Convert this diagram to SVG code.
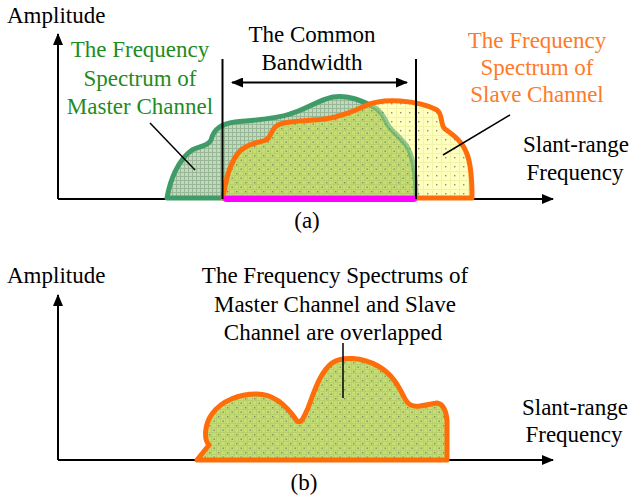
<svg xmlns="http://www.w3.org/2000/svg" width="631" height="499" viewBox="0 0 631 499">
<style>
text{font-family:"Liberation Serif","Times New Roman",serif;font-size:23px;fill:#000}
.c{text-anchor:middle}
.gt{fill:#1e8c1e}
.ot{fill:#ff7a26}
.ax{stroke:#000;stroke-width:2;fill:none}
.ld{stroke:#000;stroke-width:1.5;fill:none}
.gs{fill:none;stroke:#3f9c68;stroke-width:5;stroke-linejoin:round}
.os{fill:none;stroke:#ff6c0a;stroke-width:5;stroke-linejoin:round}
.ob{fill:url(#po);stroke:#ff6c0a;stroke-width:5;stroke-linejoin:round}
</style>
<defs>
<marker id="ah" viewBox="0 0 12 10" refX="11" refY="5" markerWidth="12" markerHeight="10" markerUnits="userSpaceOnUse" orient="auto-start-reverse"><path d="M0,0 L12,5 L0,10 Z" fill="#000"/></marker>
<pattern id="pg" width="4" height="4" patternUnits="userSpaceOnUse"><rect width="4" height="4" fill="#c2d9bd"/><path d="M0,0.5H4M0.5,0V4" stroke="#98b898" stroke-width="1"/></pattern>
<pattern id="py" width="9" height="9" patternUnits="userSpaceOnUse"><rect width="9" height="9" fill="#ffffbe"/><path d="M0,0.5H9M0.5,0V9" stroke="#f2f2a8" stroke-width="1"/><rect x="4" y="4" width="1.4" height="1.4" fill="#8a8a8a"/></pattern>
<pattern id="po" width="9" height="9" patternUnits="userSpaceOnUse"><rect width="9" height="9" fill="#c6dd76"/><path d="M0,0.5H9M0,4.5H9M0.5,0V9M4.5,0V9" stroke="#b6d06a" stroke-width="1"/><rect x="2" y="2" width="1.4" height="1.4" fill="#7f8a70"/><rect x="6.5" y="6.5" width="1.4" height="1.4" fill="#7f8a70"/></pattern>
<path id="gp" d="M167,198 C170,180 178,160 192,150 C200,146 208,146 211,140 C214,128 222,124 235,122 C255,120 275,119 290,114 C305,110 318,100 333,97 C348,95 360,100 372,106 C382,111 384,118 388,125 C392,132 402,138 408,148 C414,160 416,175 416,198 Z"/>
<path id="op" d="M223,198 C226,178 230,162 240,151 C248,143 258,143 266,140 C272,137 270,128 280,124 C292,120 310,121 325,119 C340,117 352,112 365,106 C375,101 385,100 400,101 C415,102 428,105 437,110 C443,114 440,125 445,129 C455,136 464,143 468,157 C472,170 472,185 472,198 Z"/>
<clipPath id="cg"><use href="#gp"/></clipPath>
<clipPath id="co"><use href="#op"/></clipPath>
</defs>
<rect width="631" height="499" fill="#fff"/>

<g id="panel-a-axes">
<line class="ax" x1="58" y1="199" x2="58" y2="34" marker-end="url(#ah)"/>
<line class="ax" x1="58" y1="199" x2="553" y2="199" marker-end="url(#ah)"/>
<text x="7" y="23">Amplitude</text>
<text class="c" x="576" y="152">Slant-range</text>
<text class="c" x="575" y="180">Frequency</text>
<text class="c" x="307" y="228">(a)</text>
</g>

<g id="spectra-a">
<use href="#gp" fill="url(#pg)"/>
<use href="#gp" class="gs"/>
<use href="#op" fill="url(#py)"/>
<use href="#op" fill="url(#po)" clip-path="url(#cg)"/>
<use href="#gp" class="gs" stroke-opacity="0.55" clip-path="url(#co)"/>
<use href="#op" class="os"/>
<line x1="226" y1="199" x2="414" y2="199" stroke="#ff00ff" stroke-width="6" stroke-linecap="round"/>
</g>

<g id="master-label">
<text class="c gt" x="140" y="57">The Frequency</text>
<text class="c gt" x="140" y="86">Spectrum of</text>
<text class="c gt" x="140" y="114">Master Channel</text>
</g>

<g id="slave-label">
<text class="c ot" x="537" y="48">The Frequency</text>
<text class="c ot" x="537" y="75">Spectrum of</text>
<text class="c ot" x="537" y="102">Slave Channel</text>
</g>

<g id="common-bandwidth">
<text class="c" x="312" y="42">The Common</text>
<text class="c" x="312" y="70">Bandwidth</text>
<line class="ax" x1="222.5" y1="59" x2="222.5" y2="199"/>
<line class="ax" x1="416" y1="59" x2="416" y2="199"/>
</g>

<g id="panel-b-axes">
<line class="ax" x1="58" y1="460" x2="58" y2="295" marker-end="url(#ah)"/>
<line class="ax" x1="58" y1="460" x2="553" y2="460" marker-end="url(#ah)"/>
<text x="7" y="283">Amplitude</text>
<text class="c" x="575" y="415">Slant-range</text>
<text class="c" x="574" y="442">Frequency</text>
<text class="c" x="304" y="490">(b)</text>
</g>

<g id="spectrum-b">
<path class="ob" d="M197,460 L209,445 C204,440 204,425 212,414 C222,400 240,394 257,394 C272,394 285,403 297,421 C302,424 304,416 308,408 C314,392 320,372 332,363 C342,356 362,357 378,366 C392,374 398,385 404,397 C408,405 412,407 420,406 L437,403 C443,404 446,410 447,420 L447,460 Z"/>
</g>

<g id="overlap-label">
<text class="c" x="335" y="283">The Frequency Spectrums of</text>
<text class="c" x="335" y="312">Master Channel and Slave</text>
<text class="c" x="333" y="340">Channel are overlapped</text>
</g>

<g id="connectors">
<line class="ax" x1="232" y1="82.5" x2="407" y2="82.5" marker-start="url(#ah)" marker-end="url(#ah)"/>
<line class="ld" x1="150" y1="123" x2="195" y2="170"/>
<line class="ld" x1="510" y1="115" x2="443" y2="155"/>
<line class="ld" x1="343" y1="343" x2="343" y2="398"/>
</g>
</svg>
